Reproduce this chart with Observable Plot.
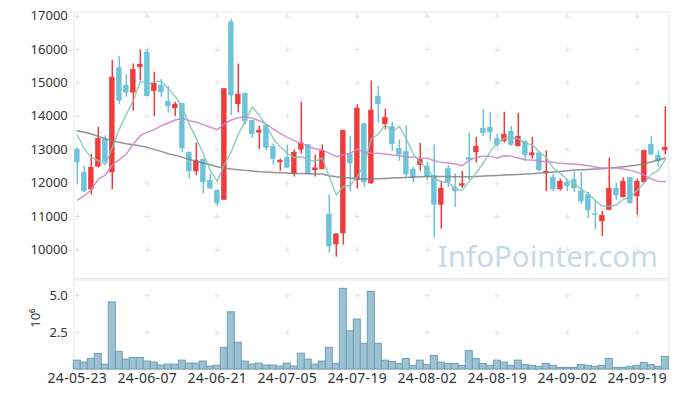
<!DOCTYPE html>
<html><head><meta charset="utf-8">
<script src="https://cdn.jsdelivr.net/npm/d3@7"></script>
<script src="https://cdn.jsdelivr.net/npm/@observablehq/plot@0.6"></script>
<style>
html,body{margin:0;padding:0;background:#fff;}
#chart{width:677px;height:397px;overflow:hidden;}
#chart svg{display:block;}
</style>
</head><body><div id="chart"></div>
<script>
const dates = ["2024-05-23","2024-05-24","2024-05-27","2024-05-28","2024-05-29","2024-05-30","2024-05-31","2024-06-03","2024-06-04","2024-06-05",
"2024-06-07","2024-06-10","2024-06-11","2024-06-12","2024-06-13","2024-06-14","2024-06-17","2024-06-18","2024-06-19","2024-06-20",
"2024-06-21","2024-06-24","2024-06-25","2024-06-26","2024-06-27","2024-06-28","2024-07-01","2024-07-02","2024-07-03","2024-07-04",
"2024-07-05","2024-07-08","2024-07-09","2024-07-10","2024-07-11","2024-07-12","2024-07-15","2024-07-16","2024-07-17","2024-07-18",
"2024-07-19","2024-07-22","2024-07-23","2024-07-24","2024-07-25","2024-07-26","2024-07-29","2024-07-30","2024-07-31","2024-08-01",
"2024-08-02","2024-08-05","2024-08-06","2024-08-07","2024-08-08","2024-08-09","2024-08-12","2024-08-13","2024-08-14","2024-08-16",
"2024-08-19","2024-08-20","2024-08-21","2024-08-22","2024-08-23","2024-08-26","2024-08-27","2024-08-28","2024-08-29","2024-08-30",
"2024-09-02","2024-09-03","2024-09-04","2024-09-05","2024-09-06","2024-09-09","2024-09-10","2024-09-11","2024-09-12","2024-09-13",
"2024-09-19","2024-09-20","2024-09-23","2024-09-24","2024-09-25"];

const open = [13000,12300,11810,12490,13300,12320,15440,14920,14710,15470,
15910,14750,14920,14440,14240,14370,12910,12350,12700,12070,
11770,11490,16820,14360,14670,13860,13510,13720,13090,12620,
12760,12270,13000,13140,12380,12410,11050,10160,10490,12850,
12080,13760,11990,14590,13760,13680,13020,12940,12400,12540,
12490,12210,11350,12420,11840,11920,12750,12920,13620,13660,
13320,13250,13540,13100,13240,12830,12890,12300,12160,11810,
12000,12100,11750,11640,11070,10850,11190,11830,11570,12150,
11600,12020,13150,12820,12980];
const high = [13050,12500,12860,13680,13420,15670,15790,15250,15570,15990,
16000,15320,15100,14900,14420,14380,12930,13200,12720,12270,
11800,14820,16900,15570,14700,13870,13700,13750,13170,12720,
13140,12990,14420,13150,12840,13140,11640,10480,13580,13390,
14350,13800,15060,14890,14220,13820,13290,13720,12470,13190,
12620,13140,12050,12520,12270,12350,13500,13370,14190,14120,
13470,14120,13700,14090,13260,13370,12950,12960,12270,12120,
12100,12340,12320,11720,11440,11150,12750,12000,12150,12170,
12120,12980,13390,12960,14290];
const low = [11970,11720,11640,12450,12580,11800,14350,14570,14160,15070,
14580,13990,14570,14100,13990,12920,12120,12220,11670,11800,
11300,11490,14020,14100,13740,13340,13000,12970,12540,12350,
12440,12180,12870,12260,12180,12400,9900,9780,10140,11740,
11820,11870,11960,13800,13600,12950,12650,12170,12020,12350,
12070,10350,10620,11870,11270,11840,12070,12600,13400,13250,
13070,13200,13100,13080,12640,12720,12340,11740,11740,11760,
11750,11720,11360,10940,10600,10400,11180,11490,11560,11380,
11040,12010,12830,12470,12840];
const close = [12620,11750,12460,13320,12620,15160,14470,14710,15390,15550,
14600,14970,14720,14300,14350,13040,12350,12660,12020,11840,
11390,14820,14620,14650,13850,13460,13570,13050,12720,12670,
12460,12910,13190,12270,12440,12950,10100,10460,13570,12590,
14230,12020,14170,14360,13950,13160,12850,12260,12140,12700,
12190,11350,11830,12020,11750,11970,12690,13090,13490,13520,
13140,13450,13140,13390,12840,12890,12380,12340,11810,12040,
11900,11840,11450,11180,11050,11020,11820,11630,12040,11390,
12040,12970,12850,12650,13060];
const ma5 = [13440,13020,12770,12670,12550,13060,13610,14060,14470,15060,
14940,15040,15050,14830,14590,14280,13750,13340,12880,12380,
12050,12550,12940,13460,13870,14280,14030,13720,13330,13090,
12890,12760,12790,12700,12650,12750,12190,11640,11900,11930,
12190,12570,13320,13470,13750,13530,13700,13320,12870,12620,
12430,12130,12040,12020,11830,11780,12050,12300,12600,12950,
13190,13340,13350,13330,13190,13140,12930,12770,12450,12290,
12090,11990,11810,11680,11480,11310,11300,11340,11510,11580,
11780,12010,12260,12380,12710];
const ma20 = [11490,11620,11800,12120,12240,12540,12700,12870,13170,13420,
13520,13600,13720,13800,13890,13940,13870,13820,13750,13670,
13600,13770,13890,13960,13990,13940,13870,13770,13620,13490,
13370,13270,13190,13100,13020,13000,12890,12790,12850,12890,
13020,12920,12900,12890,12870,12840,12820,12790,12770,12750,
12740,12670,12620,12600,12570,12520,12680,12770,12800,12800,
12750,12820,12800,12750,12700,12690,12660,12640,12620,12590,
12580,12570,12550,12520,12480,12450,12450,12450,12420,12380,
12320,12240,12120,12050,12050];
const ma60 = [13570,13520,13470,13400,13330,13260,13220,13180,13150,13110,
13070,13010,12950,12880,12830,12770,12710,12660,12600,12550,
12490,12450,12420,12400,12380,12360,12340,12330,12320,12310,
12300,12290,12290,12280,12270,12270,12220,12190,12170,12150,
12140,12120,12120,12130,12140,12150,12160,12170,12180,12190,
12200,12200,12200,12200,12190,12190,12190,12200,12210,12220,
12230,12240,12250,12260,12270,12280,12300,12310,12330,12350,
12370,12390,12400,12410,12420,12430,12450,12470,12490,12510,
12540,12580,12630,12690,12750];
// volume, in millions of shares
const volume = [0.60,0.47,0.71,1.05,0.33,4.55,1.20,0.67,0.78,0.78,
0.54,0.47,0.27,0.33,0.33,0.60,0.40,0.40,0.54,0.20,
0.25,1.47,3.88,1.81,0.54,0.33,0.40,0.27,0.27,0.20,
0.40,0.20,1.07,0.67,0.33,0.54,1.47,0.38,5.47,2.59,
3.39,1.74,5.27,1.74,0.60,0.51,0.38,0.71,0.25,0.60,
0.31,0.92,0.47,0.38,0.38,0.25,1.25,0.71,0.38,0.25,
0.60,0.47,0.25,0.60,0.31,0.25,0.18,0.38,0.25,0.11,
0.11,0.11,0.31,0.25,0.18,0.25,0.71,0.11,0.11,0.18,
0.25,0.45,0.31,0.18,0.85];
const priceTicks = [10000,11000,12000,13000,14000,15000,16000,17000];
const volumeTicks = [2.5,5.0];
const xTickIndex = [0,10,20,30,40,50,60,70,80];
const watermark = "InfoPointer.com";
const volumeUnit = "10⁶";

const UP = "#ef3b3b", DOWN = "#6cc3da";
const rows = dates.map((d,i)=>({i, date:d, open:open[i], high:high[i], low:low[i], close:close[i],
  ma5:ma5[i], ma20:ma20[i], ma60:ma60[i], vol:volume[i], up: close[i] >= open[i]}));

const font = "'Noto Sans', sans-serif";
const W = 677, ML = 73.3, MR = 8.7;
const xDomain = [-0.5, dates.length - 0.5];

const crossesMain = xTickIndex.flatMap(x => priceTicks.map(y => ({x, y})));
const crossesVol = xTickIndex.flatMap(x => volumeTicks.map(y => ({x, y})));

const main = Plot.plot({
  width: W, height: 279, marginLeft: ML, marginRight: MR, marginTop: 11.5, marginBottom: 1,
  style: {fontFamily: font, fontSize: "13px", color: "#333", background: "#fff", overflow: "visible"},
  x: {domain: xDomain, axis: null},
  y: {domain: [9140, 17126], ticks: priceTicks, tickSize: 0, tickPadding: 6, tickFormat: d => String(d), label: null},
  marks: [
    Plot.frame({stroke: "#e8e8e8"}),
    Plot.dot(crossesMain, {x: "x", y: "y", symbol: "plus", r: 2, stroke: "#e4e4e4", strokeWidth: 1}),
    Plot.text([watermark], {frameAnchor: "bottom-right", text: d => d, textAnchor: "end", lineAnchor: "middle",
      dx: -11, dy: -21, fontSize: 29.5, fill: "#c8d9e5", fontFamily: "'Noto Sans', sans-serif"}),
    Plot.ruleX(rows, {x: "i", y1: "low", y2: "high", stroke: d => d.up ? UP : DOWN, strokeWidth: 1.5}),
    Plot.rectY(rows, {x1: d => d.i - 0.34, x2: d => d.i + 0.34, y1: "open", y2: "close",
      fill: d => d.up ? UP : DOWN, stroke: d => d.up ? UP : DOWN, strokeWidth: 0.6, inset: 0}),
    Plot.line(rows, {x: "i", y: "ma60", stroke: "#808080", strokeWidth: 1.5, strokeOpacity: 0.85}),
    Plot.line(rows, {x: "i", y: "ma20", stroke: "#cc88c4", strokeWidth: 1.5, strokeOpacity: 0.9}),
    Plot.line(rows, {x: "i", y: "ma5", stroke: "#7fc7b8", strokeWidth: 1.5, strokeOpacity: 0.85})
  ]
});

const vol = Plot.plot({
  width: W, height: 118, marginLeft: ML, marginRight: MR, marginTop: 0.5, marginBottom: 28,
  style: {fontFamily: font, fontSize: "13px", color: "#333", background: "#fff", overflow: "visible"},
  x: {domain: xDomain, ticks: xTickIndex, tickSize: 0, tickPadding: 4, tickFormat: i => dates[i].slice(2), label: null},
  y: {domain: [0, 6.07], ticks: volumeTicks, tickSize: 0, tickPadding: 6, tickFormat: d3.format(".1f"), label: null},
  marks: [
    Plot.frame({stroke: "#e8e8e8"}),
    Plot.dot(crossesVol, {x: "x", y: "y", symbol: "plus", r: 2, stroke: "#e4e4e4", strokeWidth: 1}),
    Plot.rectY(rows, {x1: d => d.i - 0.5, x2: d => d.i + 0.5, y: "vol", fill: "#9cc2d3", stroke: "#6d9fb6", strokeWidth: 1, inset: 0}),
    Plot.text([volumeUnit], {frameAnchor: "left", text: d => d, dx: -38, dy: 3, rotate: -90, fontSize: 13, fill: "#333"})
  ]
});

// slightly larger x tick labels, as in the reference
vol.querySelectorAll('g[aria-label="x-axis tick label"], g[aria-label="x-axis"]').forEach(g => {
  g.setAttribute("font-size", "14");
  g.style.fontSize = "14px";
  g.setAttribute("letter-spacing", "0.3");
});

document.getElementById("chart").append(main, vol);
</script>
</body></html>
